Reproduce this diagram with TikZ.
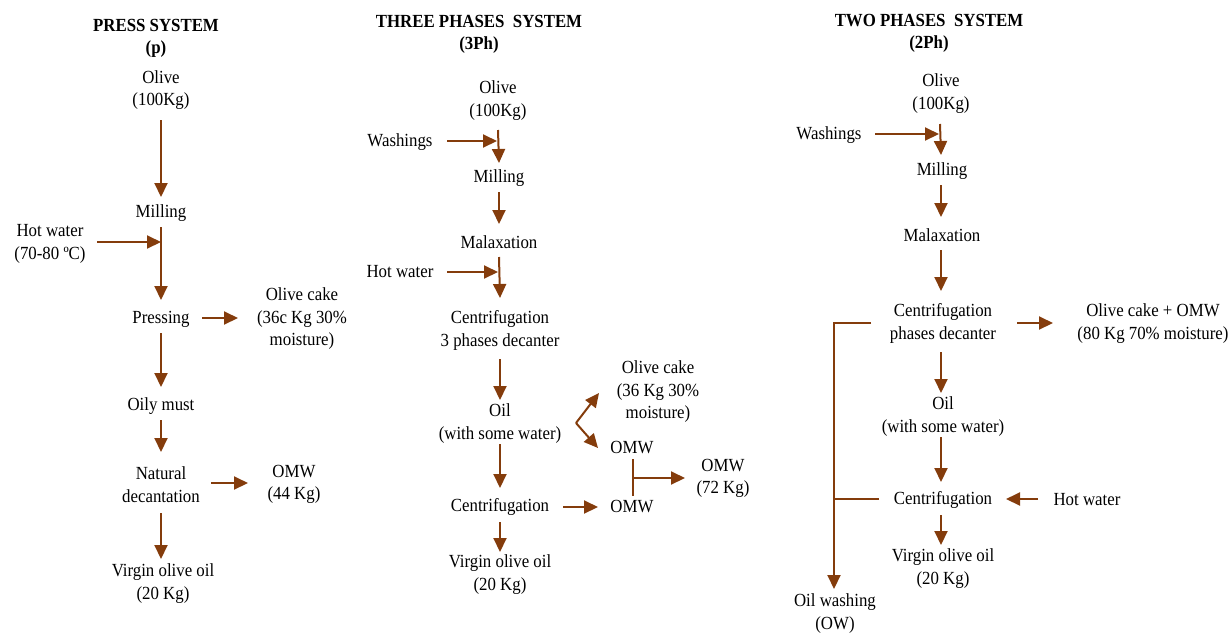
\documentclass[tikz,border=0pt]{standalone}
\usepackage{fontspec}
\setmainfont{Liberation Serif}[FakeStretch=0.91]
\usetikzlibrary{arrows.meta,calc}
\definecolor{brn}{RGB}{132,60,12}
\begin{document}
\begin{tikzpicture}[x=1pt,y=-1pt,
  t/.style={align=center,inner sep=0pt,font=\fontsize{18.5}{22.5}\selectfont},
  ttl/.style={align=center,inner sep=0pt,font=\fontsize{18.5}{22.5}\selectfont\bfseries},
  arr/.style={draw=brn,line width=2pt,-{Triangle[length=14pt,width=13pt]}},
  ln/.style={draw=brn,line width=2pt}]
\useasboundingbox (0,0) rectangle (1232,633);
% ---------------- PRESS SYSTEM
\node[ttl] (pT) at (156,38.5) {PRESS SYSTEM\\(p)};
\node[t] (pOlive) at (161,90) {Olive\\(100Kg)};
\node[t] (pMill) at (161,213) {Milling};
\node[t] (pHot) at (50,244) {Hot water\\(70-80 ºC)};
\coordinate (pj1) at (161,242);
\node[t] (pPress) at (161,319) {Pressing};
\node[t] (pCake) at (302,319) {Olive cake\\(36c Kg 30\%\\moisture)};
\node[t] (pOily) at (161,406) {Oily must};
\node[t] (pNat) at (161,484.5) {Natural\\decantation};
\node[t] (pOMW) at (294,484.5) {OMW\\(44 Kg)};
\node[t] (pVir) at (163,583.5) {Virgin olive oil\\(20 Kg)};
\draw[arr] ($(pOlive)+(0,30)$) -- ($(pMill)+(0,-16)$);
\draw[arr] ($(pMill)+(0,14)$) -- ($(pPress)+(0,-19)$);
\draw[arr] ($(pHot)+(47,-2)$) -- (pj1);
\draw[arr] ($(pPress)+(41,-1)$) -- ($(pCake)+(-64,-1)$);
\draw[arr] ($(pPress)+(0,14)$) -- ($(pOily)+(0,-19)$);
\draw[arr] ($(pOily)+(0,14)$) -- ($(pNat)+(0,-32.5)$);
\draw[arr] ($(pNat)+(50,-1.5)$) -- ($(pOMW)+(-46,-1.5)$);
\draw[arr] ($(pNat)+(0,28.5)$) -- ($(pVir)+(-2,-24.5)$);
% ---------------- THREE PHASES SYSTEM
\node[ttl] (tT) at (479,34.5) {THREE PHASES~ SYSTEM\\(3Ph)};
\node[t] (tOlive) at (498,100.5) {Olive\\(100Kg)};
\node[t] (tWash) at (400,142) {Washings};
\coordinate (tj1) at (497,141);
\node[t] (tMill) at (499,178) {Milling};
\node[t] (tMal) at (499,242) {Malaxation};
\node[t] (tHot) at (400,272) {Hot water};
\coordinate (tj2) at (498,272);
\node[t] (tCen1) at (500,330.5) {Centrifugation\\3 phases decanter};
\node[t] (tOil) at (500,423.5) {Oil\\(with some water)};
\node[t] (tCake) at (658,392) {Olive cake\\(36 Kg 30\%\\moisture)};
\node[t] (tOMW1) at (632,448) {OMW};
\node[t] (tCen2) at (500,507) {Centrifugation};
\node[t] (tOMW2) at (632,507) {OMW};
\node[t] (tOMW3) at (723,478.5) {OMW\\(72 Kg)};
\node[t] (tVir) at (500,574.5) {Virgin olive oil\\(20 Kg)};
\draw[arr] ($(tWash)+(47,-1)$) -- (tj1);
\draw[arr] ($(tOlive)+(0,29.5)$) -- ($(tMill)+(0,-15)$);
\draw[arr] ($(tMill)+(0,14)$) -- ($(tMal)+(0,-18)$);
\draw[arr] ($(tHot)+(47,0)$) -- (tj2);
\draw[arr] ($(tMal)+(0,15)$) -- ($(tCen1)+(0,-32.5)$);
\draw[arr] ($(tCen1)+(0,28.5)$) -- ($(tOil)+(0,-23.5)$);
\draw[arr] ($(tOil)+(0,20.5)$) -- ($(tCen2)+(0,-19)$);
\draw[arr] ($(tCen2)+(63,0)$) -- ($(tOMW2)+(-34,0)$);
\draw[arr] ($(tCen2)+(0,15)$) -- ($(tVir)+(0,-22.5)$);
\coordinate (tfork) at ($(tOil)+(76,-0.5)$);
\draw[arr] (tfork) -- ($(tCake)+(-59,1)$);
\draw[arr] (tfork) -- ($(tOMW1)+(-34,0)$);
\draw[ln] ($(tOMW1)+(1,11)$) -- ($(tOMW2)+(1,-11)$);
\draw[arr] ($(tOMW1)+(1,30)$) -- ($(tOMW3)+(-38,-0.5)$);
% ---------------- TWO PHASES SYSTEM
\node[ttl] (wT) at (929,33.5) {TWO PHASES~ SYSTEM\\(2Ph)};
\node[t] (wOlive) at (941,93.5) {Olive\\(100Kg)};
\node[t] (wWash) at (829,135) {Washings};
\coordinate (wj1) at (939,134);
\node[t] (wMill) at (942,171) {Milling};
\node[t] (wMal) at (942,235) {Malaxation};
\node[t] (wCen1) at (943,323.5) {Centrifugation\\phases decanter};
\node[t] (wCake) at (1153,323.5) {Olive cake + OMW\\(80 Kg 70\% moisture)};
\node[t] (wOil) at (943,416.5) {Oil\\(with some water)};
\node[t] (wCen2) at (943,500) {Centrifugation};
\node[t] (wHot) at (1087,500) {Hot water};
\node[t] (wVir) at (943,568.5) {Virgin olive oil\\(20 Kg)};
\node[t] (wOW) at (835,613.5) {Oil washing\\(OW)};
\draw[arr] ($(wWash)+(46,-1)$) -- (wj1);
\draw[arr] ($(wOlive)+(-1,30.5)$) -- ($(wMill)+(-1,-16)$);
\draw[arr] ($(wMill)+(-1,14)$) -- ($(wMal)+(-1,-18)$);
\draw[arr] ($(wMal)+(-1,15)$) -- ($(wCen1)+(-2,-32.5)$);
\draw[arr] ($(wCen1)+(74,-0.5)$) -- ($(wCake)+(-100,-0.5)$);
\draw[arr] ($(wCen1)+(-2,28.5)$) -- ($(wOil)+(-2,-23.5)$);
\draw[arr] ($(wOil)+(-2,20.5)$) -- ($(wCen2)+(-2,-18)$);
\draw[arr] ($(wHot)+(-49,-1)$) -- ($(wCen2)+(63,-1)$);
\draw[arr] ($(wCen2)+(-2,15)$) -- ($(wVir)+(-2,-23.5)$);
\draw[arr] ($(wCen1)+(-72,-0.5)$) -| ($(wOW)+(-1,-24.5)$);
\draw[ln] ($(wCen2)+(-64,-1)$) -- ($(wOW)+(-1,-114.5)$);
\end{tikzpicture}
\end{document}
